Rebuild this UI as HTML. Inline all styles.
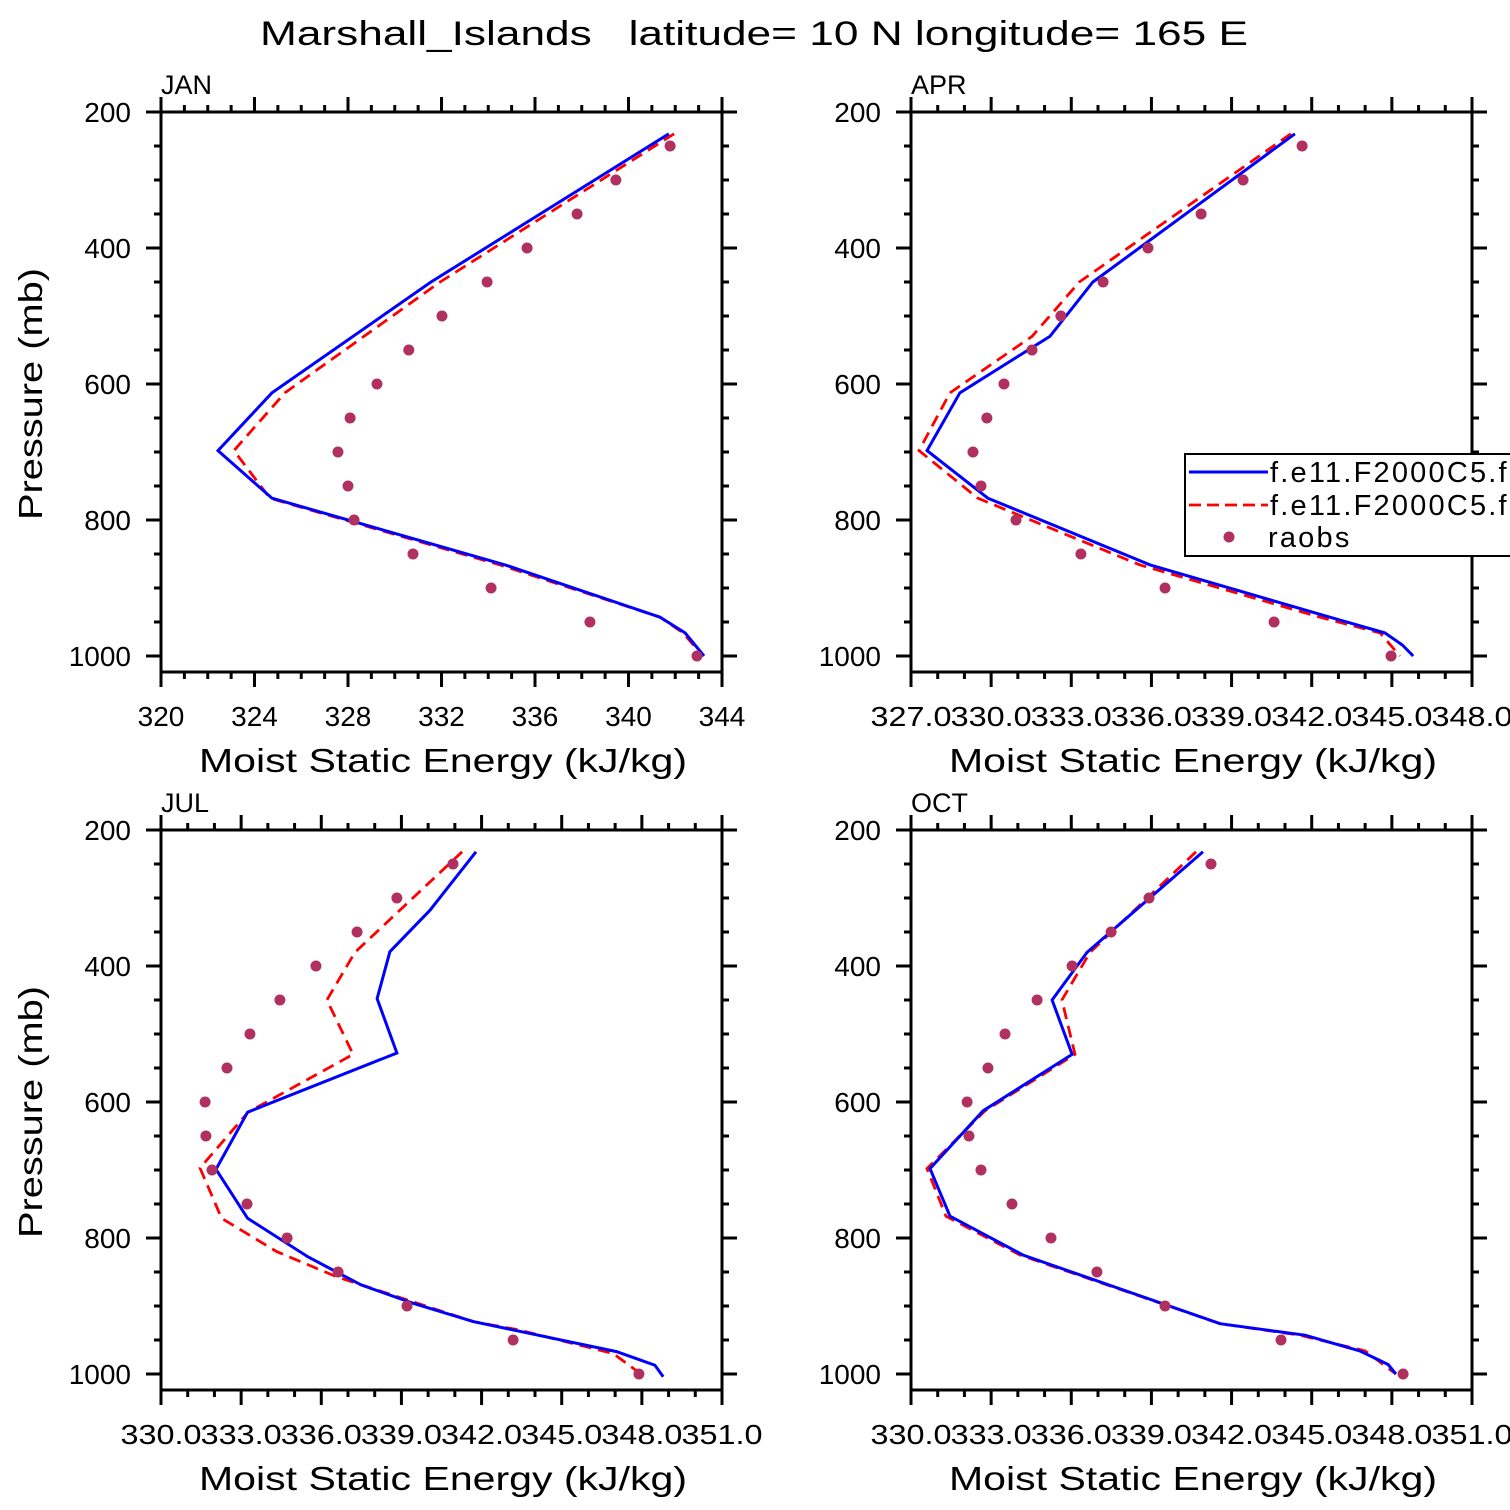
<!DOCTYPE html>
<html><head><meta charset="utf-8">
<style>
html,body{margin:0;padding:0;background:#fff;}
svg{display:block;font-family:"Liberation Sans",sans-serif;}
</style></head>
<body>
<svg id="chart" width="1510" height="1510" viewBox="0 0 1510 1510" xmlns="http://www.w3.org/2000/svg">
<rect x="0" y="0" width="1510" height="1510" fill="#fff"/>
<text x="260" y="45" font-size="34" textLength="988" lengthAdjust="spacingAndGlyphs" fill="#000" xml:space="preserve">Marshall_Islands   latitude= 10 N longitude= 165 E</text>
</svg>
<script>
// ---- data ----
const panelNames = ["JAN","APR","JUL","OCT"];
const xMins = [320, 327, 330, 330];
const xMaxs = [344, 348, 351, 351];
const xMajorSteps = [4, 3, 3, 3];
const yTickLabels = [200, 400, 600, 800, 1000];
const obsPressure = [250,300,350,400,450,500,550,600,650,700,750,800,850,900,950,1000];

const janBlueP = [232,450,613,698,768,866,943,966,1000];
const janBlueV = [341.73,331.55,324.75,322.44,324.75,334.72,341.35,342.42,343.23];
const janRedP = [232,450,613,698,768,866,943,966,1000];
const janRedV = [341.95,331.94,325.3,323.12,324.66,334.5,341.35,342.33,343.19];
const janObs = [341.78,339.46,337.8,335.66,333.95,332.02,330.6,329.24,328.09,327.57,328.0,328.26,330.78,334.12,338.35,342.93];

const aprBlueP = [232,450,530,613,698,768,866,943,966,984,1000];
const aprBlueV = [341.37,333.81,332.2,328.83,327.6,329.88,335.95,342.68,344.74,345.4,345.8];
const aprRedP = [232,450,530,613,698,768,866,943,966,1000];
const aprRedV = [341.22,333.3,331.53,328.46,327.3,329.5,335.57,342.31,344.56,345.3];
const aprObs = [341.64,339.43,337.86,335.87,334.19,332.61,331.53,330.48,329.84,329.32,329.62,330.93,333.36,336.51,340.59,344.97];

const julBlueP = [232,318,379,448,528,615,699,771,828,869,896,923,967,987,1004];
const julBlueV = [341.79,340.07,338.57,338.09,338.83,333.24,332.06,333.24,335.51,337.49,339.44,341.69,347.05,348.49,348.8];
const julRedP = [232,380,450,530,615,697,771,820,857,923,935,970,999];
const julRedV = [341.27,337.26,336.21,337.19,333.26,331.46,332.27,334.33,336.58,341.69,343.37,346.93,347.93];
const julObs = [340.93,338.83,337.34,335.8,334.45,333.33,332.47,331.65,331.68,331.91,333.22,334.72,336.63,339.21,343.18,347.89];

const octBlueP = [232,380,450,530,613,698,768,825,926,943,966,986,1000];
const octBlueV = [340.93,336.59,335.28,336.03,332.7,330.71,331.46,334.19,341.57,344.75,346.8,347.86,348.15];
const octRedP = [232,380,450,530,613,698,768,825,926,943,966,1000];
const octRedV = [340.67,336.7,335.65,336.14,332.77,330.6,331.31,334.08,341.57,344.56,347.0,348.15];
const octObs = [341.23,338.91,337.49,336.03,334.72,333.52,332.88,332.1,332.17,332.62,333.78,335.24,336.96,339.51,343.85,348.42];

const blueP = [janBlueP, aprBlueP, julBlueP, octBlueP];
const blueV = [janBlueV, aprBlueV, julBlueV, octBlueV];
const redP = [janRedP, aprRedP, julRedP, octRedP];
const redV = [janRedV, aprRedV, julRedV, octRedV];
const obsV = [janObs, aprObs, julObs, octObs];

// ---- drawing ----
const NS = "http://www.w3.org/2000/svg";
const svg = document.getElementById("chart");
function mk(tag, attrs, parent) {
  const e = document.createElementNS(NS, tag);
  for (const k in attrs) e.setAttribute(k, attrs[k]);
  (parent || svg).appendChild(e);
  return e;
}
const boxes = [[161,112],[911,112],[161,830],[911,830]];
const W = 561, H = 560;

panelNames.forEach((name, i) => {
  const [bx, by] = boxes[i];
  const g = mk("g", {});
  
  
  const xs = v => bx + (v - xMins[i]) / (xMaxs[i] - xMins[i]) * W;
  const ys = p => by + (p - 200) * 0.68;

  const t = mk("text", {x: bx, y: by - 18, "font-size": 27, fill: "#000"}, g);
  t.textContent = name;
  
  

  for (let p = 200; p <= 1000; p += 50) {
    const y = ys(p);
    const major = p % 200 === 0;
    const len = major ? 15 : 7;
    mk("line", {x1: bx - len, y1: y, x2: bx, y2: y, stroke: "#000", "stroke-width": 3}, g);
    mk("line", {x1: bx + W, y1: y, x2: bx + W + len, y2: y, stroke: "#000", "stroke-width": 3}, g);
  }
  yTickLabels.forEach(p => {
    const tl = mk("text", {x: bx - 30, y: ys(p) + 10, "font-size": 28, "text-anchor": "end", fill: "#000"}, g);
    tl.textContent = p;
    
    
  });
  for (let v = xMins[i]; v <= xMaxs[i] + 1e-6; v += 1) {
    const x = xs(v);
    const major = Math.abs(((v - xMins[i]) % xMajorSteps[i])) < 1e-6;
    const len = major ? 15 : 7;
    mk("line", {x1: x, y1: by + H, x2: x, y2: by + H + len, stroke: "#000", "stroke-width": 3}, g);
    mk("line", {x1: x, y1: by - len, x2: x, y2: by, stroke: "#000", "stroke-width": 3}, g);
    if (major) {
      const lab = xMajorSteps[i] === 4 ? String(v) : v.toFixed(1);
      const tl = mk("text", {x: x, y: by + H + 54, "font-size": 28, "text-anchor": "middle", fill: "#000"}, g);
      tl.textContent = lab;
      if (xMajorSteps[i] !== 4) { tl.setAttribute("textLength", 81); tl.setAttribute("lengthAdjust", "spacingAndGlyphs"); }
      
      
    }
  }
  mk("rect", {x: bx, y: by, width: W, height: H, fill: "none", stroke: "#000", "stroke-width": 3}, g);

  const xt = mk("text", {x: bx + 38, y: by + H + 100, "font-size": 33, textLength: 488, lengthAdjust: "spacingAndGlyphs", fill: "#000"}, g);
  xt.textContent = "Moist Static Energy (kJ/kg)";
  
  
  if (i % 2 === 0) {
    const yt = mk("text", {transform: `translate(42,${by + 408}) rotate(-90)`, "font-size": 33, textLength: 252, lengthAdjust: "spacingAndGlyphs", fill: "#000"}, g);
    yt.textContent = "Pressure (mb)";
    
    
  }

  const redPts = redP[i].map((p, k) => xs(redV[i][k]).toFixed(1) + "," + ys(p).toFixed(1)).join(" ");
  const red = mk("polyline", {points: redPts, fill: "none", stroke: "#ff0000", "stroke-width": 2.8, "stroke-dasharray": "12,7"}, g);
  
  
  const bluePts = blueP[i].map((p, k) => xs(blueV[i][k]).toFixed(1) + "," + ys(p).toFixed(1)).join(" ");
  const blue = mk("polyline", {points: bluePts, fill: "none", stroke: "#0000ff", "stroke-width": 3}, g);
  
  
  obsPressure.forEach((p, k) => {
    const c = mk("circle", {cx: xs(obsV[i][k]), cy: ys(p), r: 5.5, fill: "#b03060"}, g);
    
    
  });
});

const lg = mk("g", {});


mk("rect", {x: 1185, y: 454, width: 340, height: 102, fill: "#fff", stroke: "#000", "stroke-width": 2}, lg);
mk("line", {x1: 1189, y1: 472, x2: 1268, y2: 472, stroke: "#0000ff", "stroke-width": 3}, lg);
mk("line", {x1: 1189, y1: 505, x2: 1268, y2: 505, stroke: "#ff0000", "stroke-width": 2.8, "stroke-dasharray": "12,6"}, lg);
mk("circle", {cx: 1229, cy: 537, r: 5.5, fill: "#b03060"}, lg);
const l1 = mk("text", {x: 1270, y: 482, "font-size": 29, "letter-spacing": 2.2, fill: "#000"}, lg);
l1.textContent = "f.e11.F2000C5.f09f09.control";


const l2 = mk("text", {x: 1270, y: 515, "font-size": 29, "letter-spacing": 2.2, fill: "#000"}, lg);
l2.textContent = "f.e11.F2000C5.f09f09.test";


const l3 = mk("text", {x: 1268, y: 547, "font-size": 29, "letter-spacing": 2.2, fill: "#000"}, lg);
l3.textContent = "raobs";


</script>
</body></html>
